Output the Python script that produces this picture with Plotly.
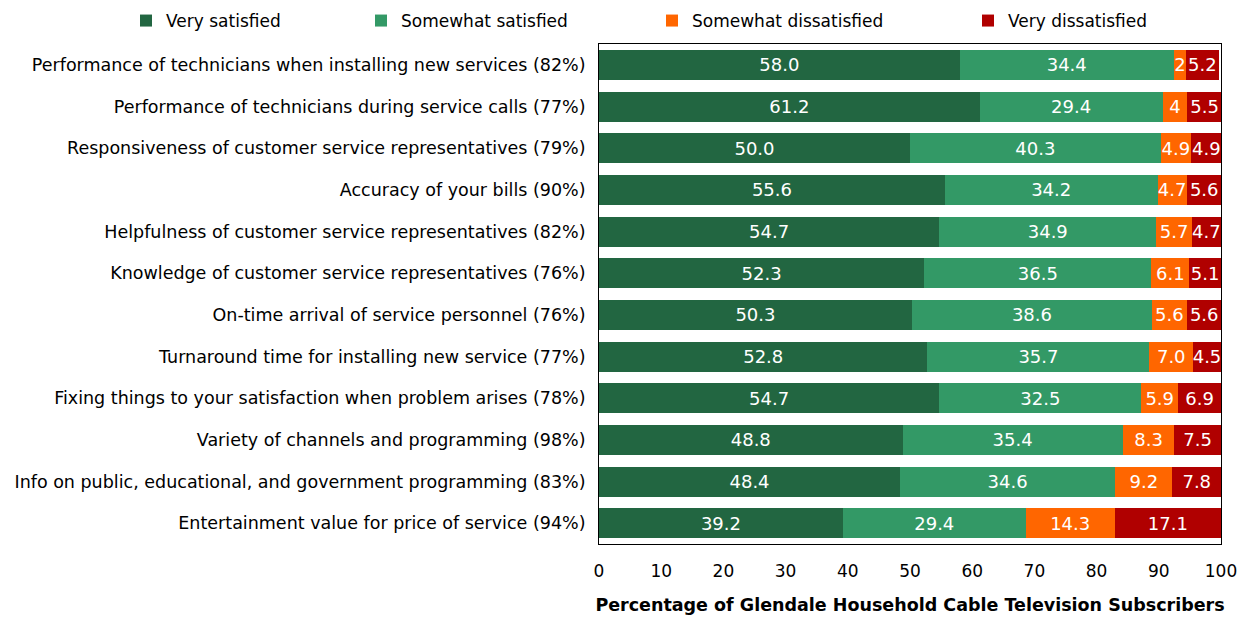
import plotly.graph_objects as go

categories = [
    "Performance of technicians when installing new services (82%)",
    "Performance of technicians during service calls (77%)",
    "Responsiveness of customer service representatives (79%)",
    "Accuracy of your bills (90%)",
    "Helpfulness of customer service representatives (82%)",
    "Knowledge of customer service representatives (76%)",
    "On-time arrival of service personnel (76%)",
    "Turnaround time for installing new service (77%)",
    "Fixing things to your satisfaction when problem arises (78%)",
    "Variety of channels and programming (98%)",
    "Info on public, educational, and government programming (83%)",
    "Entertainment value for price of service (94%)",
]

very_satisfied = [58.0, 61.2, 50.0, 55.6, 54.7, 52.3, 50.3, 52.8, 54.7, 48.8, 48.4, 39.2]
somewhat_satisfied = [34.4, 29.4, 40.3, 34.2, 34.9, 36.5, 38.6, 35.7, 32.5, 35.4, 34.6, 29.4]
somewhat_dissatisfied = [2, 4, 4.9, 4.7, 5.7, 6.1, 5.6, 7.0, 5.9, 8.3, 9.2, 14.3]
very_dissatisfied = [5.2, 5.5, 4.9, 5.6, 4.7, 5.1, 5.6, 4.5, 6.9, 7.5, 7.8, 17.1]

series_names = ["Very satisfied", "Somewhat satisfied", "Somewhat dissatisfied", "Very dissatisfied"]
series_values = [very_satisfied, somewhat_satisfied, somewhat_dissatisfied, very_dissatisfied]
series_colors = ["#226641", "#339966", "#FF6600", "#B00000"]

# each series gets its own legend box so the entries can sit at fixed spots
legend_ids = ["legend", "legend2", "legend3", "legend4"]
legend_x = [126, 361, 652, 968]

FONT = "DejaVu Sans"


def fmt(v):
    return f"{v:.1f}" if isinstance(v, float) else str(v)


fig = go.Figure()
for name, vals, color, lid in zip(series_names, series_values, series_colors, legend_ids):
    fig.add_trace(go.Bar(
        name=name,
        y=categories,
        x=vals,
        orientation="h",
        marker=dict(color=color, line=dict(width=0)),
        text=[fmt(v) for v in vals],
        textposition="inside",
        insidetextanchor="middle",
        textangle=0,
        constraintext="none",
        textfont=dict(family=FONT, size=18, color="white"),
        hovertemplate="%{y}<br>" + name + ": %{x}<extra></extra>",
        legend=lid,
    ))

legend_common = dict(
    orientation="h",
    xref="container", xanchor="left",
    yref="container", y=1 - 3 / 618, yanchor="top",
    font=dict(family=FONT, size=17, color="black"),
    itemwidth=30,
    bgcolor="rgba(0,0,0,0)",
)

fig.update_layout(
    barmode="stack",
    bargap=0.28,
    width=1250,
    height=618,
    margin=dict(l=599, r=29, t=44, b=74, autoexpand=False),
    paper_bgcolor="white",
    plot_bgcolor="white",
    font=dict(family=FONT, size=17, color="black"),
    showlegend=True,
)
for lid, lx in zip(legend_ids, legend_x):
    fig.update_layout({lid: dict(legend_common, x=lx / 1250)})

fig.update_xaxes(
    range=[0, 100],
    tickmode="array",
    tickvals=[0, 10, 20, 30, 40, 50, 60, 70, 80, 90, 100],
    showgrid=False,
    zeroline=False,
    showline=True,
    linecolor="black",
    linewidth=1,
    mirror=True,
    ticks="",
    ticklabelstandoff=12,
    tickfont=dict(family=FONT, size=17, color="black"),
    title=dict(
        text="<b>Percentage of Glendale Household Cable Television Subscribers</b>",
        font=dict(family=FONT, size=17.5, color="black"),
        standoff=18,
    ),
)
fig.update_yaxes(
    categoryorder="array",
    categoryarray=categories,
    autorange="reversed",
    showgrid=False,
    showline=True,
    linecolor="black",
    linewidth=1,
    mirror=True,
    ticks="",
    ticklabelstandoff=9,
    tickfont=dict(family=FONT, size=17.5, color="black"),
)

fig.write_html("out.html")
